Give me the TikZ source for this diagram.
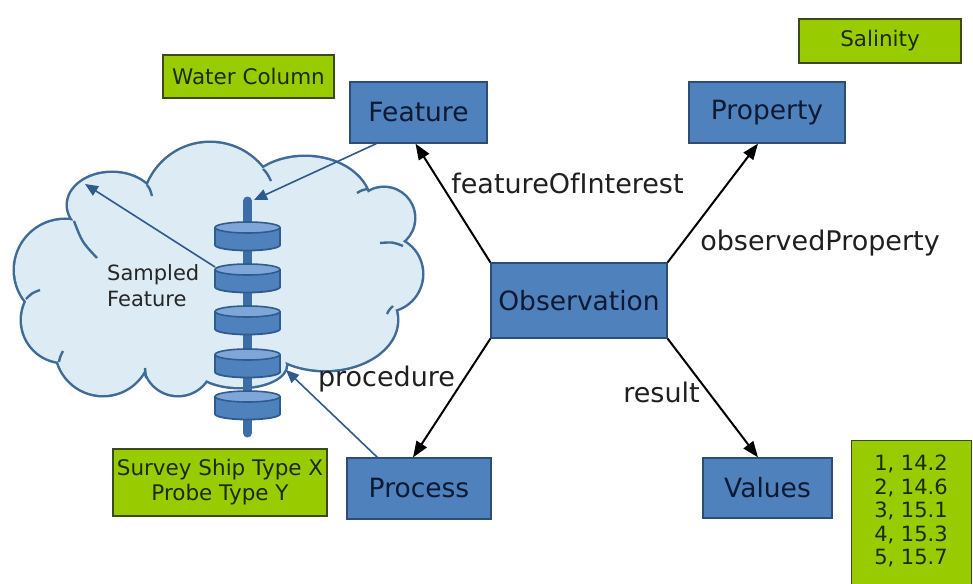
\documentclass[tikz,border=0pt]{standalone}
\usepackage{fontspec}
\setmainfont{DejaVu Sans}
\usetikzlibrary{arrows.meta,calc}
\definecolor{boxblue}{HTML}{4F81BD}
\definecolor{boxedge}{HTML}{2C4D75}
\definecolor{boxtext}{HTML}{0E1A33}
\definecolor{lime}{HTML}{99CC00}
\definecolor{limeedge}{HTML}{3A4A1C}
\definecolor{limetext}{HTML}{1C2A0C}
\definecolor{cloudfill}{HTML}{DCEBF4}
\definecolor{cloudedge}{HTML}{3F6B96}
\definecolor{linkblue}{HTML}{2E5A8C}
\definecolor{diskfill}{HTML}{4F81BD}
\definecolor{disktop}{HTML}{7EA6D8}
\definecolor{diskedge}{HTML}{2F5C8E}
\definecolor{rodcol}{HTML}{3D6DA6}
\begin{document}
\begin{tikzpicture}[x=1pt,y=-1pt,
  bluebox/.style={draw=boxedge, line width=1.2pt, fill=boxblue, text=boxtext,
    font=\fontsize{26.5}{30}\selectfont, inner sep=0pt},
  greenbox/.style={draw=limeedge, line width=1.2pt, fill=lime, text=limetext,
    font=\fontsize{21.5}{25}\selectfont, inner sep=0pt, align=center},
  lbl/.style={font=\fontsize{27}{30}\selectfont, text=black!88, inner sep=0pt, anchor=base},
  rel/.style={draw=black, line width=2pt, -{Triangle[length=16pt,width=12pt]}},
  link/.style={draw=linkblue, line width=1.6pt, -{Triangle[length=13pt,width=11pt]}},
  stub/.style={draw=cloudedge, line width=2.4pt},
  disk/.style={fill=diskfill, draw=diskedge, line width=1.8pt},
  disklid/.style={fill=disktop, draw=diskedge, line width=1.6pt},
]
\useasboundingbox (0,0) rectangle (973,583);

% ---- cloud ----
\def\cloudshapes{
  (112,205) ellipse[x radius=44, y radius=32]
  (210,210) circle[radius=67]
  (305,205) ellipse[x radius=65, y radius=48]
  (384,218) circle[radius=30]
  (385,274) circle[radius=37]
  (325,320) ellipse[x radius=72, y radius=50]
  (240,365) ellipse[x radius=46, y radius=22]
  (178,361) circle[radius=34]
  (103,348) circle[radius=47]
  (64,320) circle[radius=42]
  (65,270) circle[radius=50]
}
\draw[cloudedge, line width=5pt] \cloudshapes;
\fill[cloudfill] \cloudshapes;
\fill[cloudfill] (220,275) ellipse[x radius=165, y radius=85];
% interior arcs of the cloud
\draw[stub] (74,221) .. controls (82,242) .. (97,258);
\draw[stub] (147,185) .. controls (150,189) .. (152,196);
\draw[stub] (26,299) .. controls (32,293) .. (40,290);
\draw[stub] (59,362) .. controls (60,357) .. (63,351);
\draw[stub] (146,378) .. controls (146,373) .. (145,368);
\draw[stub] (263,169) .. controls (267,173) .. (271,181);
\draw[stub] (357,193) .. controls (362,190) .. (368,189);
\draw[stub] (403,246) .. controls (393,242) .. (380,243);
\draw[stub] (387,314) .. controls (389,310) .. (393,306);

% ---- probe ----
\draw[rodcol, line width=9pt, line cap=round] (247.5,201) -- (247.5,433);
\foreach \t in {222,264,306,349,391}{
  \filldraw[disk] (247.5,\t+23) ellipse[x radius=32.5, y radius=5.5];
  \fill[diskfill] (215,\t+5.5) rectangle (280,\t+23);
  \draw[diskedge, line width=1.8pt] (215,\t+5.5) -- (215,\t+23) (280,\t+5.5) -- (280,\t+23);
  \filldraw[disklid] (247.5,\t+5.5) ellipse[x radius=32.5, y radius=5.5];
}
\coordinate (rodtop) at (254,200);
\coordinate (disktwo) at (215,267);
\coordinate (cloudtip) at (85,184);
\coordinate (diskfour) at (286,370);

\node[font=\fontsize{21}{26}\selectfont, text=black!85, align=left, anchor=west, inner sep=0pt]
  (sampled) at (107,286) {Sampled\\Feature};

% ---- boxes ----
\node[bluebox, minimum width=137pt, minimum height=61pt] (feat) at (418.5,112.5) {Feature};
\node[bluebox, minimum width=156pt, minimum height=61pt] (prop) at (767,112.5) {Property};
\node[bluebox, minimum width=176pt, minimum height=75pt] (obs) at (579,300.5) {Observation};
\node[bluebox, minimum width=144pt, minimum height=61pt] (proc) at (419,488.5) {Process};
\node[bluebox, minimum width=129pt, minimum height=60pt] (vals) at (767.5,488) {Values};

\node[greenbox, minimum width=162pt, minimum height=44pt] (sal) at (880,41) {Salinity};
\node[greenbox, minimum width=171pt, minimum height=43pt] (wc) at (248.5,76.5) {Water Column};
\node[greenbox, minimum width=214pt, minimum height=67pt] (ship) at (220,482.5) {Survey Ship Type X\\Probe Type Y};
\node[greenbox, minimum width=120pt, minimum height=160pt, anchor=north west] (list) at (851,440) {};
\node[font=\fontsize{21}{23.5}\selectfont, text=limetext, align=center, inner sep=0pt, anchor=north]
  (listtext) at (911,455) {1, 14.2\\2, 14.6\\3, 15.1\\4, 15.3\\5, 15.7};

% ---- relations ----
\draw[rel] (obs.north west) -- ($(feat.south)+(-3,0)$);
\draw[rel] (obs.north east) -- ($(prop.south)+(-9,0)$);
\draw[rel] (obs.south east) -- ($(vals.north)+(-9.5,0)$);
\draw[rel] (obs.south west) -- ($(proc.north)+(-6,0)$);

\node[lbl] (lfoi) at (567.5,193) {featureOfInterest};
\node[lbl] (lop) at (820,250) {observedProperty};
\node[lbl] (lres) at (661.5,402) {result};
\node[lbl] (lproc) at (386.5,386) {procedure};

% ---- sampling links ----
\draw[link] ($(feat.south west)+(27,0)$) -- (rodtop);
\draw[link] (disktwo) -- (cloudtip);
\draw[link] ($(proc.north west)+(31,0)$) -- (diskfour);
\end{tikzpicture}
\end{document}
